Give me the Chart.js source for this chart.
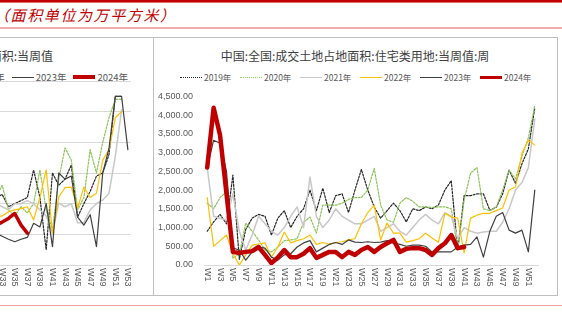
<!DOCTYPE html>
<html>
<head>
<meta charset="utf-8">
<script src="https://cdn.jsdelivr.net/npm/chart.js@4.4.1/dist/chart.umd.min.js"></script>
<style>
html, body { margin: 0; padding: 0; background: #fff; }
body { width: 562px; height: 325px; position: relative; overflow: hidden;
  font-family: "Noto Sans CJK SC", "Noto Sans", sans-serif; }
.abs { position: absolute; }
.head { left: -6px; top: 4px; font-size: 15px; letter-spacing: 1.6px; line-height: 22px; color: #c00000; font-style: italic; white-space: nowrap; }
.title { font-size: 12px; color: #404040; white-space: nowrap; line-height: 16px; }
.legend { color: #595959; white-space: nowrap; line-height: 12px; }
.legend span { display: inline-block; }
.legend i { display: inline-block; width: 22px; height: 0; vertical-align: middle; margin-right: 2px; position: relative; top: -1px; }
#legL { font-size: 9.5px; right: 25px; top: 33px; }
#legL span { margin-left: 7px; }
#legR { font-size: 8.5px; left: 180px; top: 71px; }
#legR span { width: 60px; }
#clipL { left: 0; top: 38px; width: 153px; height: 257px; overflow: hidden; }
</style>
</head>
<body>
<div class="abs" style="left:0;top:0;width:562px;height:2px;background:#c00000"></div>
<div class="abs" style="left:0;top:2px;width:562px;height:1px;background:#e07070"></div>
<div class="abs head">（面积单位为万平方米）</div>
<div class="abs" style="left:0;top:27px;width:562px;height:2px;background:#f4a9a9"></div>
<div class="abs" style="left:0;top:305px;width:562px;height:1px;background:#f0a0a0"></div>

<div id="clipL" class="abs">
  <div class="abs title" style="right:100px;top:10px">100大中城市:成交土地占地面积:当周值</div>
  <div id="legL" class="abs legend">
    <span><i style="border-top:1.5px dotted #262626"></i>2019年</span><span><i style="border-top:1.5px dotted #92d050"></i>2020年</span><span><i style="border-top:1.5px solid #c8c8c8"></i>2021年</span><span><i style="border-top:1.5px solid #ffc000"></i>2022年</span><span><i style="border-top:1.5px solid #404040"></i>2023年</span><span><i style="border-top:4px solid #c00000"></i>2024年</span>
  </div>
  <canvas id="leftChart" class="abs" width="354" height="222" style="left:-202px;top:35px"></canvas>
</div>

<div class="abs" style="left:0;top:37px;width:558px;height:1px;background:#bfbfbf"></div>
<div class="abs" style="left:0;top:295px;width:558px;height:1px;background:#bfbfbf"></div>
<div class="abs" style="left:153px;top:37px;width:1px;height:259px;background:#bfbfbf"></div>
<div class="abs" style="left:557px;top:37px;width:1px;height:259px;background:#bfbfbf"></div>

<div class="abs title" style="left:153px;top:48px;width:404px;text-align:center">中国:全国:成交土地占地面积:住宅类用地:当周值:周</div>
<div id="legR" class="abs legend">
  <span><i style="border-top:1.5px dotted #262626"></i>2019年</span><span><i style="border-top:1.5px dotted #92d050"></i>2020年</span><span><i style="border-top:1.5px solid #c8c8c8"></i>2021年</span><span><i style="border-top:1.5px solid #ffc000"></i>2022年</span><span><i style="border-top:1.5px solid #404040"></i>2023年</span><span><i style="border-top:3.5px solid #c00000"></i>2024年</span>
</div>
<canvas id="rightChart" class="abs" width="404" height="215" style="left:153px;top:80px"></canvas>

<script>
// right chart: weekly values W1..W52
var weeksRight = [];
for (var i = 1; i <= 52; i++) weeksRight.push('W' + i);

var r2019 = [900, 1150, 1350, 1100, 2400, 150, 950, 1250, 1350, 1300, 800, 1250, 1450, 1000, 1300, 1500, 2000, 1450, 2050, 1400, 1850, 1900, 1400, 2000, 2550, 2000, 1550, 1250, 1450, 1650, 1450, 1150, 1500, 1450, 1550, 1500, 1600, 2000, 2250, 400, 1850, 1850, 1900, 1900, 1460, 1540, 1900, 2530, 2180, 2700, 3100, 4200];
var r2020 = [1650, 1500, 1800, 1950, 180, 300, 1120, 900, 670, 400, 350, 480, 650, 670, 700, 1140, 1280, 850, 1600, 1600, 1600, 1650, 1750, 1800, 1800, 2000, 2580, 1600, 1200, 1140, 1650, 1800, 1700, 1550, 1550, 1540, 1550, 1550, 1500, 400, 1730, 2450, 2600, 1500, 1450, 1550, 2000, 2530, 2300, 2900, 3400, 4250];
var r2021 = [2600, 1300, 1250, 1200, 1900, 900, 400, 800, 1300, 1100, 900, 800, 1000, 1300, 1550, 1000, 2350, 1300, 1000, 1200, 1500, 1300, 1200, 1100, 1100, 1200, 1300, 900, 1000, 1100, 900, 800, 1000, 1200, 1350, 1200, 1100, 1400, 1300, 700, 1000, 900, 850, 880, 900, 900, 1140, 1500, 2000, 2200, 2600, 3900];
var r2022 = [1800, 500, 650, 800, 300, 0, 270, 530, 560, 590, 210, 480, 880, 590, 650, 700, 800, 550, 600, 550, 600, 620, 670, 700, 1100, 1400, 1600, 670, 1120, 850, 850, 610, 650, 700, 850, 720, 610, 1380, 1280, 1250, 320, 1250, 1330, 1380, 1380, 1450, 1520, 2000, 2080, 2980, 3330, 3200];
var r2023 = [2600, 3330, 3250, 2500, 450, 400, 130, 350, 480, 450, 210, 130, 270, 300, 480, 590, 650, 350, 450, 550, 600, 550, 670, 610, 600, 620, 600, 610, 650, 580, 550, 500, 530, 530, 500, 350, 350, 350, 350, 480, 530, 550, 750, 210, 900, 1300, 1400, 930, 850, 930, 350, 2000];
var r2024 = [2600, 4200, 3460, 1900, 350, 320, 350, 370, 480, 270, 50, 200, 400, 210, 210, 300, 450, 190, 270, 350, 350, 210, 350, 270, 400, 480, 350, 480, 580, 670, 350, 430, 450, 450, 400, 270, 450, 580, 800, 450, 480];
var rightTicks = [0, 500, 1000, 1500, 2000, 2500, 3000, 3500, 4000, 4500];

// left chart: only W31..W53 is inside the visible crop
var weeksLeft = [];
for (var j = 1; j <= 53; j++) weeksLeft.push('W' + j);
var leftFirstWeek = 31;
var l2019 = [1100, 1100, 1150, 950, 1000, 1050, 1100, 1550, 1100, 250, 1500, 1300, 1400, 1630, 780, 1000, 1200, 1450, 1500, 1800, 2750, 2750];
var l2020 = [1000, 1100, 1300, 900, 800, 950, 850, 1000, 1550, 900, 570, 1400, 1910, 1710, 900, 1100, 1880, 1500, 2000, 2400, 2700, 2700];
var l2021 = [1000, 1000, 950, 900, 1000, 1000, 1050, 1000, 900, 800, 520, 1010, 950, 1000, 690, 690, 900, 1000, 1060, 1170, 1770, 2530];
var l2022 = [750, 780, 800, 870, 900, 920, 950, 735, 1100, 1550, 520, 1110, 1260, 1270, 930, 1270, 1100, 1170, 1710, 1880, 2400, 2500];
var l2023 = [550, 520, 470, 420, 380, 420, 450, 680, 620, 1000, 300, 1500, 1400, 1450, 780, 650, 820, 300, 1500, 1900, 2750, 2750, 1880];
var l2024 = [600, 650, 700, 760, 840, 650, 520];

function padLeft(arr) {
    var out = [];
    for (var k = 1; k < leftFirstWeek; k++) out.push(null);
    return out.concat(arr);
}

var tickFont = { family: '"Liberation Sans", Arial, sans-serif', size: 9 };
var tickColor = '#595959';

// week labels turned 90deg clockwise, every other week, placed with the x scale
var weekLabels = {
    id: 'weekLabels',
    afterDraw: function (chart) {
        var xs = chart.scales.x, ctx = chart.ctx;
        ctx.save();
        ctx.font = '9px "Liberation Sans", Arial, sans-serif';
        ctx.fillStyle = tickColor;
        ctx.textAlign = 'left';
        ctx.textBaseline = 'middle';
        chart.data.labels.forEach(function (lab, n) {
            if (n % 2) return;
            ctx.save();
            ctx.translate(xs.getPixelForValue(n), xs.top + 3);
            ctx.rotate(Math.PI / 2);
            ctx.fillText(lab, 0, 0);
            ctx.restore();
        });
        ctx.restore();
    }
};

function makeSets(d19, d20, d21, d22, d23, d24, redWidth) {
    return [
        { label: '2024年', data: d24, borderColor: '#c00000', borderWidth: redWidth, order: 0 },
        { label: '2023年', data: d23, borderColor: '#404040', borderWidth: 1.2, order: 1 },
        { label: '2022年', data: d22, borderColor: '#ffc000', borderWidth: 1.2, order: 2 },
        { label: '2021年', data: d21, borderColor: '#c8c8c8', borderWidth: 1.5, order: 3 },
        { label: '2020年', data: d20, borderColor: '#8cc45a', borderWidth: 1.2, borderDash: [2, 1.5], order: 4 },
        { label: '2019年', data: d19, borderColor: '#262626', borderWidth: 1.2, borderDash: [2, 1.5], order: 5 }
    ];
}

function xAxis() {
    return {
        offset: true,
        grid: { display: false, drawTicks: false },
        border: { color: '#d9d9d9' },
        afterFit: function (s) { s.height = 30; },
        ticks: { display: false, autoSkip: false }
    };
}

var baseOpts = {
    responsive: false,
    animation: false,
    elements: { point: { radius: 0 }, line: { tension: 0, borderJoinStyle: 'round', borderCapStyle: 'round' } },
    plugins: { legend: { display: false }, tooltip: { enabled: false } }
};

new Chart(document.getElementById('rightChart'), {
    type: 'line',
    data: { labels: weeksRight, datasets: makeSets(r2019, r2020, r2021, r2022, r2023, r2024, 4.5) },
    plugins: [weekLabels],
    options: Object.assign({}, baseOpts, {
        layout: { padding: { left: 0, right: 19, top: 8, bottom: 0 } },
        scales: {
            x: xAxis(),
            y: {
                min: 0, max: 4500,
                afterFit: function (s) { s.width = 51; },
                afterBuildTicks: function (s) { s.ticks = rightTicks.map(function (v) { return { value: v }; }); },
                grid: { display: false, drawTicks: false },
                border: { display: false },
                ticks: {
                    padding: 11, font: tickFont, color: tickColor,
                    callback: function (v) {
                        return v.toLocaleString('en-US', { minimumFractionDigits: 2, maximumFractionDigits: 2 });
                    }
                }
            }
        }
    })
});

new Chart(document.getElementById('leftChart'), {
    type: 'line',
    data: {
        labels: weeksLeft,
        datasets: makeSets(padLeft(l2019), padLeft(l2020), padLeft(l2021), padLeft(l2022), padLeft(l2023), padLeft(l2024), 3.5)
    },
    plugins: [weekLabels],
    options: Object.assign({}, baseOpts, {
        layout: { padding: { left: 0, right: 21, top: 8, bottom: 0 } },
        scales: {
            x: xAxis(),
            y: {
                min: 0, max: 3000,
                afterFit: function (s) { s.width = 0; },
                grid: { color: '#d9d9d9', drawTicks: false },
                border: { display: false },
                ticks: { display: false, stepSize: 500 }
            }
        }
    })
});
</script>
</body>
</html>
